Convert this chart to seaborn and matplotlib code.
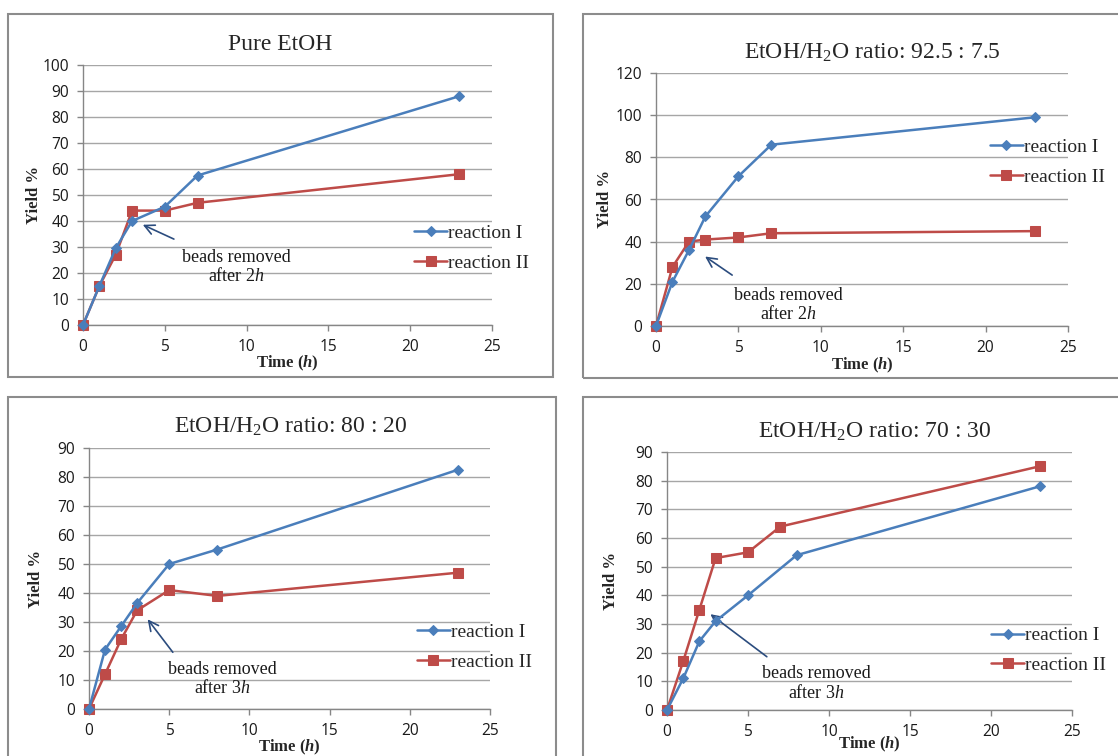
import numpy as np
import pandas as pd
import seaborn as sns
import matplotlib.pyplot as plt
from matplotlib.patches import Rectangle

sns.set_style("white")
plt.rcParams["font.family"] = ["Liberation Serif", "DejaVu Serif"]
plt.rcParams["mathtext.fontset"] = "custom"
plt.rcParams["mathtext.rm"] = "Liberation Serif"
plt.rcParams["mathtext.it"] = "Liberation Serif:italic"
plt.rcParams["mathtext.bf"] = "Liberation Serif:bold"
plt.rcParams["mathtext.bfit"] = "Liberation Serif:italic:bold"

W, H = 1118, 756
DPI = 100
BLUE = "#4A7EBB"
RED = "#BE4B48"
GRAY = "#868686"

# ---- data ----
time_a = [0, 1, 2, 3, 5, 7, 23]
time_b = [0, 1, 2, 3, 5, 8, 23]

pure_r1 = [0, 15, 29.5, 40, 45.5, 57.5, 88]
pure_r2 = [0, 15, 27, 44, 44, 47, 58]

r925_r1 = [0, 21, 36, 52, 71, 86, 99]
r925_r2 = [0, 28, 40, 41, 42, 44, 45]

r80_r1 = [0, 20.5, 28.5, 36.5, 50, 55, 82.5]
r80_r2 = [0, 12, 24, 34, 41, 39, 47]

r70_r1 = [0, 11, 24, 31, 40, 54, 78]
r70_r2 = [0, 17, 35, 53, 55, 64, 85]

titles = ["Pure EtOH",
          r"EtOH/H$_2$O ratio: 92.5 : 7.5",
          r"EtOH/H$_2$O ratio: 80 : 20",
          r"EtOH/H$_2$O ratio: 70 : 30"]
notes = ["beads removed\n" r"after 2$\mathit{h}$",
         "beads removed\n" r"after 2$\mathit{h}$",
         "beads removed\n" r"after 3$\mathit{h}$",
         "beads removed\n" r"after 3$\mathit{h}$"]
y_max = [100, 120, 90, 90]
y_step = [10, 20, 10, 10]
series = [
    (time_a, pure_r1, time_a, pure_r2),
    (time_a, r925_r1, time_a, r925_r2),
    (time_b, r80_r1, time_b, r80_r2),
    (time_b, r70_r1, time_a, r70_r2),
]

# ---- layout (pixels) ----
axes_px = [(83, 65, 492, 325), (656, 73, 1068, 326),
           (89, 448, 490, 709), (667, 452, 1072, 710)]
box_px = [(8, 14, 553, 377), (583, 14, 1128, 378),
          (8, 397, 556, 770), (583, 397, 1128, 770)]
title_px = [(280, 45), (872, 53), (291, 427), (875, 432)]
ylabel_x = [34, 605, 36, 611]
xlabel_y = [363, 365, 747, 744]
arrow_head = [(3.5, 39), (2.84, 33.7), (3.55, 31.7), (2.54, 34)]
arrow_tail = [(5.71, 32.6), (4.76, 23.4), (5.33, 18.8), (6.3, 18)]
note_xy = [(9.4, 22.3), (8.06, 10.1), (8.3, 10.35), (9.2, 9.3)]
legend_xy = [(0.81, 0.296), (0.81, 0.647), (0.817, 0.238), (0.80, 0.231)]


def draw_panel(i, fig):
    l, t, r, b = axes_px[i]
    ax = fig.add_axes([l / W, 1 - b / H, (r - l) / W, (b - t) / H])
    t1, y1, t2, y2 = series[i]
    df1 = pd.DataFrame({"time": t1, "yield": y1})
    df2 = pd.DataFrame({"time": t2, "yield": y2})
    sns.lineplot(data=df1, x="time", y="yield", ax=ax, color=BLUE, marker="D",
                 markersize=5.5, markeredgecolor=BLUE, linewidth=1.8,
                 label="reaction I", clip_on=False, zorder=4)
    sns.lineplot(data=df2, x="time", y="yield", ax=ax, color=RED, marker="s",
                 markersize=7, markeredgecolor=RED, linewidth=1.8,
                 label="reaction II", clip_on=False, zorder=3)

    ax.set_xlim(0, 25)
    ax.set_ylim(0, y_max[i])
    ax.set_xticks(np.arange(0, 26, 5))
    ax.set_yticks(np.arange(0, y_max[i] + 1, y_step[i]))
    ax.grid(axis="y", color="#a6a6a6", linewidth=1)
    ax.grid(axis="x", visible=False)
    for s in ["top", "right"]:
        ax.spines[s].set_visible(False)
    for s in ["left", "bottom"]:
        ax.spines[s].set_color(GRAY)
        ax.spines[s].set_linewidth(1)
    ax.tick_params(direction="out", length=4, width=1, color=GRAY,
                   labelsize=11.2, pad=6, left=True, bottom=True,
                   labelcolor="#1a1a1a", labelfontfamily="Open Sans")

    ax.set_ylabel("Yield %", fontweight="bold", fontsize=12)
    ax.yaxis.set_label_coords((ylabel_x[i] - l) / (r - l), 0.5)
    ax.yaxis.label.set_verticalalignment("center")
    ax.set_xlabel(r"Time ($\mathbfit{h}$)", fontweight="bold", fontsize=12)
    ax.xaxis.set_label_coords(0.5, (b - xlabel_y[i]) / (b - t))
    ax.xaxis.label.set_verticalalignment("center")

    ax.annotate("", xy=arrow_head[i], xytext=arrow_tail[i],
                arrowprops=dict(arrowstyle="->,head_length=0.7,head_width=0.35",
                                color="#2B4C7E", lw=1.2))
    ax.text(note_xy[i][0], note_xy[i][1], notes[i], ha="center", va="center",
            fontsize=13, linespacing=1.1, color="#1a1a1a")

    ax.legend(loc="center left", bbox_to_anchor=legend_xy[i], frameon=False,
              fontsize=14, handlelength=1.7, handletextpad=0.05, borderpad=0,
              borderaxespad=0, labelspacing=0.62)

    fig.text(title_px[i][0] / W, 1 - title_px[i][1] / H, titles[i],
             ha="center", va="center", fontsize=17)

    x0, y0, x1, y1b = box_px[i]
    fig.add_artist(Rectangle((x0 / W, 1 - y1b / H), (x1 - x0) / W, (y1b - y0) / H,
                             transform=fig.transFigure, fill=False,
                             edgecolor="#8c8c8c", linewidth=1.5))
    return ax


fig = plt.figure(figsize=(W / DPI, H / DPI), dpi=DPI)
for i in range(4):
    draw_panel(i, fig)
fig.savefig("out.png", dpi=DPI)
